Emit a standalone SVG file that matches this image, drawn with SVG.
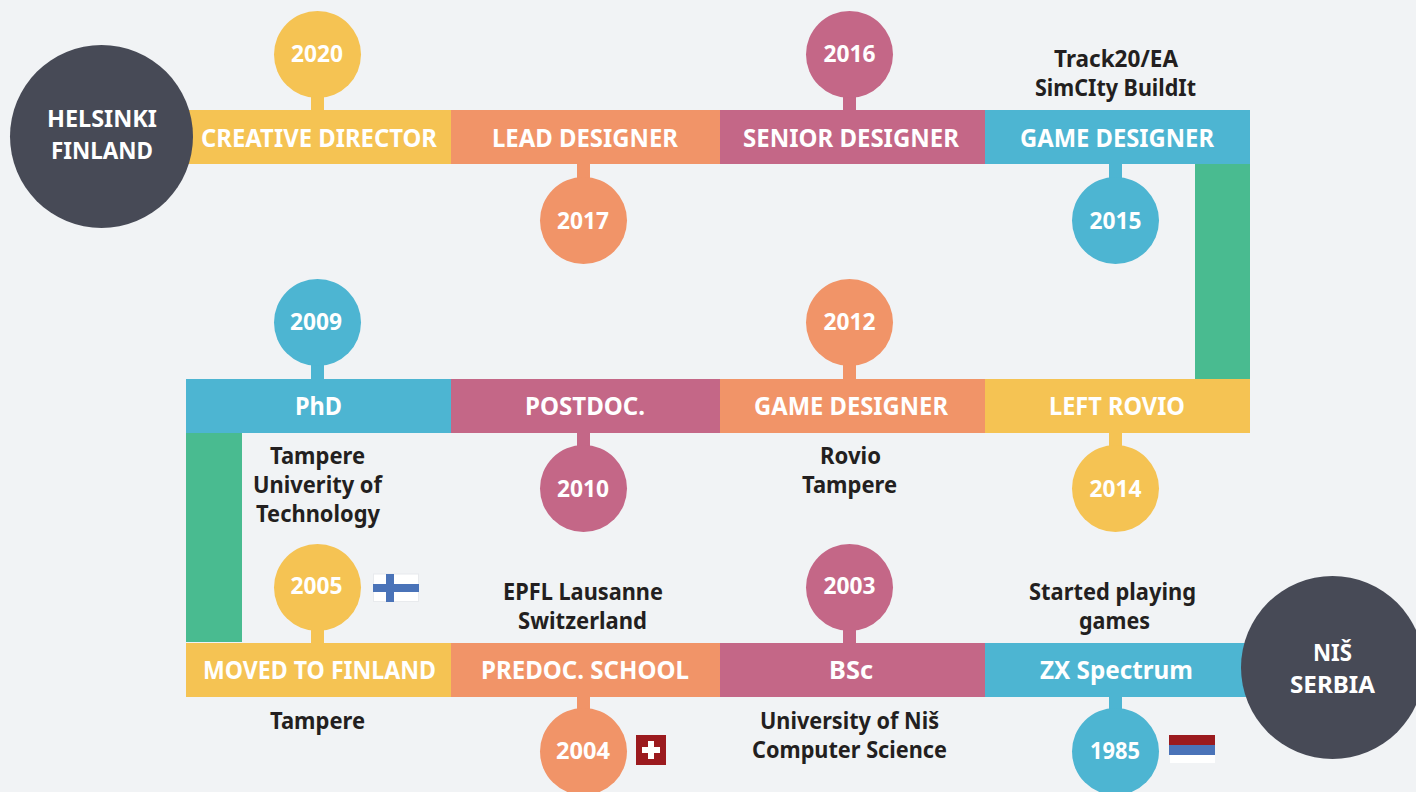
<svg xmlns="http://www.w3.org/2000/svg" width="1416" height="792" viewBox="0 0 1416 792">
<style>
text{font-family:"Noto Sans","Open Sans","Liberation Sans",sans-serif;font-weight:700;text-anchor:middle}
.w{fill:#fff;font-size:25px}
.y{fill:#fff;font-size:23px}
.c{fill:#fff;font-size:24px}
.d{fill:#231f20;font-size:23px}
.Y{fill:#f5c353}.O{fill:#f19468}.P{fill:#c46787}.B{fill:#4db5d2}.G{fill:#49bb90}.K{fill:#474a56}
</style>
<rect width="1416" height="792" fill="#f1f3f5"/>
<g id="connectors">
<rect class="G" x="1195" y="164" width="55" height="215"/>
<rect class="G" x="186" y="433" width="56" height="209"/>
</g>
<g id="n-creative"><rect class="Y" x="186" y="110" width="265" height="54"/><rect class="Y" x="311" y="90" width="13" height="20"/><circle class="Y" cx="317.500" cy="54.500" r="43.500"/><text class="w" x="319" y="147" textLength="236" lengthAdjust="spacingAndGlyphs">CREATIVE DIRECTOR</text><text class="y" x="317" y="62" textLength="52" lengthAdjust="spacingAndGlyphs">2020</text></g>
<g id="n-lead"><rect class="O" x="451" y="110" width="269" height="54"/><rect class="O" x="577" y="164" width="13" height="20"/><circle class="O" cx="583.500" cy="220.500" r="43.500"/><text class="w" x="585" y="147" textLength="186" lengthAdjust="spacingAndGlyphs">LEAD DESIGNER</text><text class="y" x="583" y="229" textLength="52" lengthAdjust="spacingAndGlyphs">2017</text></g>
<g id="n-senior"><rect class="P" x="720" y="110" width="265" height="54"/><rect class="P" x="843" y="90" width="13" height="20"/><circle class="P" cx="849.500" cy="54.500" r="43.500"/><text class="w" x="851" y="147" textLength="216" lengthAdjust="spacingAndGlyphs">SENIOR DESIGNER</text><text class="y" x="849.500" y="62" textLength="52" lengthAdjust="spacingAndGlyphs">2016</text></g>
<g id="n-game1"><rect class="B" x="985" y="110" width="265" height="54"/><rect class="B" x="1109" y="164" width="13" height="20"/><circle class="B" cx="1115.500" cy="220.500" r="43.500"/><text class="w" x="1117" y="147" textLength="194" lengthAdjust="spacingAndGlyphs">GAME DESIGNER</text><text class="y" x="1115.500" y="229" textLength="52" lengthAdjust="spacingAndGlyphs">2015</text><text class="d" x="1116" y="67" textLength="124" lengthAdjust="spacingAndGlyphs">Track20/EA</text><text class="d" x="1115.500" y="96" textLength="161" lengthAdjust="spacingAndGlyphs">SimCIty BuildIt</text></g>
<g id="n-phd"><rect class="B" x="186" y="379" width="265" height="54"/><rect class="B" x="311" y="360" width="13" height="19"/><circle class="B" cx="317.500" cy="322.500" r="43.500"/><text class="w" x="318.500" y="415" textLength="47" lengthAdjust="spacingAndGlyphs">PhD</text><text class="y" x="316" y="330" textLength="52" lengthAdjust="spacingAndGlyphs">2009</text><text class="d" x="317.500" y="464" textLength="95" lengthAdjust="spacingAndGlyphs">Tampere</text><text class="d" x="317.500" y="493" textLength="129" lengthAdjust="spacingAndGlyphs">Univerity of</text><text class="d" x="318" y="522" textLength="124" lengthAdjust="spacingAndGlyphs">Technology</text></g>
<g id="n-postdoc"><rect class="P" x="451" y="379" width="269" height="54"/><rect class="P" x="577" y="433" width="13" height="20"/><circle class="P" cx="583.500" cy="488.500" r="43.500"/><text class="w" x="585" y="415" textLength="120" lengthAdjust="spacingAndGlyphs">POSTDOC.</text><text class="y" x="583" y="497" textLength="52" lengthAdjust="spacingAndGlyphs">2010</text></g>
<g id="n-game2"><rect class="O" x="720" y="379" width="265" height="54"/><rect class="O" x="843" y="360" width="13" height="19"/><circle class="O" cx="849.500" cy="322.500" r="43.500"/><text class="w" x="851" y="415" textLength="194" lengthAdjust="spacingAndGlyphs">GAME DESIGNER</text><text class="y" x="849.500" y="330" textLength="52" lengthAdjust="spacingAndGlyphs">2012</text><text class="d" x="850.500" y="464" textLength="61" lengthAdjust="spacingAndGlyphs">Rovio</text><text class="d" x="849.500" y="493" textLength="95" lengthAdjust="spacingAndGlyphs">Tampere</text></g>
<g id="n-left"><rect class="Y" x="985" y="379" width="265" height="54"/><rect class="Y" x="1109" y="433" width="13" height="20"/><circle class="Y" cx="1115.500" cy="488.500" r="43.500"/><text class="w" x="1117" y="415" textLength="136" lengthAdjust="spacingAndGlyphs">LEFT ROVIO</text><text class="y" x="1115.500" y="497" textLength="52" lengthAdjust="spacingAndGlyphs">2014</text></g>
<g id="n-moved"><rect class="Y" x="186" y="643" width="265" height="54"/><rect class="Y" x="311" y="625" width="13" height="18"/><circle class="Y" cx="317.500" cy="587.500" r="43.500"/><text class="w" x="319.500" y="679" textLength="233" lengthAdjust="spacingAndGlyphs">MOVED TO FINLAND</text><text class="y" x="316.500" y="594" textLength="52" lengthAdjust="spacingAndGlyphs">2005</text><text class="d" x="317.500" y="729" textLength="95" lengthAdjust="spacingAndGlyphs">Tampere</text>
<rect x="373.500" y="574" width="45" height="27.500" fill="#fff" stroke="#e8eaed"/><rect x="373" y="584" width="46" height="8" fill="#4a73b8"/><rect x="386" y="574" width="8" height="28" fill="#4a73b8"/></g>
<g id="n-predoc"><rect class="O" x="451" y="643" width="269" height="54"/><rect class="O" x="577" y="697" width="13" height="20"/><circle class="O" cx="583.500" cy="751.500" r="43.500"/><text class="w" x="585" y="679" textLength="208" lengthAdjust="spacingAndGlyphs">PREDOC. SCHOOL</text><text class="y" x="583" y="759" textLength="54" lengthAdjust="spacingAndGlyphs">2004</text><text class="d" x="583" y="600" textLength="160" lengthAdjust="spacingAndGlyphs">EPFL Lausanne</text><text class="d" x="582.500" y="629" textLength="129" lengthAdjust="spacingAndGlyphs">Switzerland</text>
<rect x="636" y="735" width="30" height="30" fill="#9b1a1e"/><rect x="642" y="747" width="18" height="6" fill="#fff"/><rect x="648" y="741" width="6" height="18" fill="#fff"/></g>
<g id="n-bsc"><rect class="P" x="720" y="643" width="265" height="54"/><rect class="P" x="843" y="625" width="13" height="18"/><circle class="P" cx="849.500" cy="587.500" r="43.500"/><text class="w" x="851" y="679" textLength="44" lengthAdjust="spacingAndGlyphs">BSc</text><text class="y" x="849.500" y="594" textLength="52" lengthAdjust="spacingAndGlyphs">2003</text><text class="d" x="849.500" y="729" textLength="179" lengthAdjust="spacingAndGlyphs">University of Niš</text><text class="d" x="849.500" y="758" textLength="195" lengthAdjust="spacingAndGlyphs">Computer Science</text></g>
<g id="n-zx"><rect class="B" x="985" y="643" width="265" height="54"/><rect class="B" x="1109" y="697" width="13" height="20"/><circle class="B" cx="1115.500" cy="751.500" r="43.500"/><text class="w" x="1116.500" y="679" textLength="153" lengthAdjust="spacingAndGlyphs">ZX Spectrum</text><text class="y" x="1115" y="759" textLength="50" lengthAdjust="spacingAndGlyphs">1985</text><text class="d" x="1112.500" y="600" textLength="167" lengthAdjust="spacingAndGlyphs">Started playing</text><text class="d" x="1114.500" y="629" textLength="71" lengthAdjust="spacingAndGlyphs">games</text>
<rect x="1170" y="755" width="45" height="8" fill="#fff"/><rect x="1169" y="735" width="46" height="10" fill="#9b1a1e"/><rect x="1169" y="745" width="46" height="10" fill="#4a73b8"/></g>
<g id="n-helsinki"><circle class="K" cx="101.500" cy="136.500" r="91.500"/><text class="c" x="102" y="127" textLength="110" lengthAdjust="spacingAndGlyphs">HELSINKI</text><text class="c" x="102" y="159" textLength="102" lengthAdjust="spacingAndGlyphs">FINLAND</text></g>
<g id="n-nis"><circle class="K" cx="1332.500" cy="667.500" r="91.500"/><text class="c" x="1332.500" y="661" textLength="39" lengthAdjust="spacingAndGlyphs">NIŠ</text><text class="c" x="1332.500" y="693" textLength="85" lengthAdjust="spacingAndGlyphs">SERBIA</text></g>
</svg>
